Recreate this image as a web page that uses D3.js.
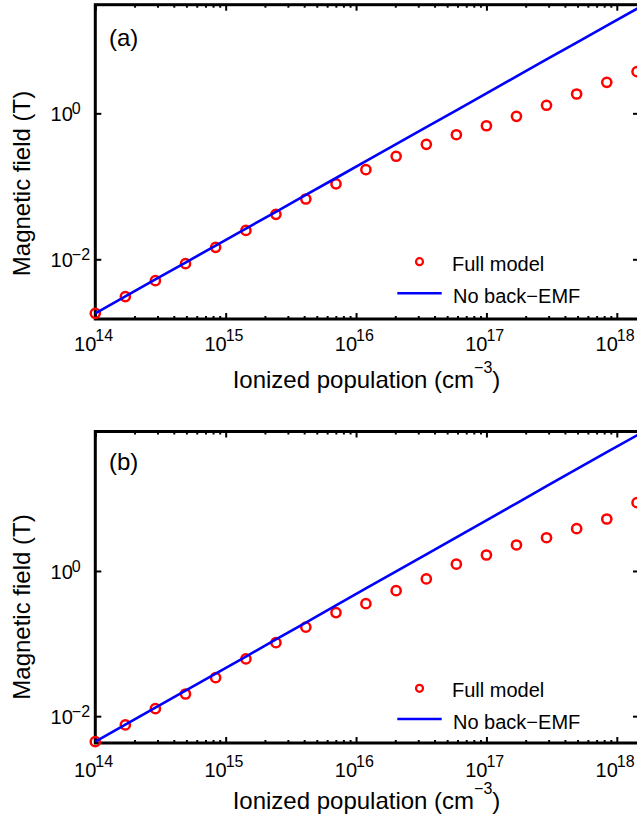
<!DOCTYPE html>
<html>
<head>
    <meta charset="utf-8">
    <title>Magnetic field vs ionized population</title>
    <script src="https://d3js.org/d3.v7.min.js"></script>
    <style>
        body { margin: 0; background: #fff; }
        text { font-family: "Liberation Sans", Arial, Helvetica, sans-serif; fill: #000; }
    </style>
</head>
<body>
    <svg id="chart" width="637" height="829"></svg>

    <script>
        // Ionized population (cm^-3) of the sampled points
        const densities = [1e14, 1.70e14, 2.89e14, 4.92e14, 8.38e14, 1.43e15, 2.43e15, 4.12e15, 7.02e15,
            1.19e16, 2.03e16, 3.46e16, 5.88e16, 1.0e17, 1.70e17, 2.89e17, 4.92e17, 8.38e17, 1.43e18];
        // the no back-EMF curve runs on to the right edge of the axes
        const lineDensities = [1e14, 1.70e14, 2.89e14, 4.92e14, 8.38e14, 1.43e15, 2.43e15, 4.12e15, 7.02e15,
            1.19e16, 2.03e16, 3.46e16, 5.88e16, 1.0e17, 1.70e17, 2.89e17, 4.92e17, 8.38e17, 1.43e18, 1.48e18];

        // panel (a), magnetic field in T
        const fullA = [1.82e-3, 3.08e-3, 5.09e-3, 8.71e-3, 1.46e-2, 2.49e-2, 4.13e-2, 6.70e-2, 0.108,
            0.169, 0.258, 0.376, 0.509, 0.676, 0.910, 1.29, 1.84, 2.66, 3.72];
        const noBackA = [1.82e-3, 3.10e-3, 5.30e-3, 9.03e-3, 1.54e-2, 2.63e-2, 4.48e-2, 7.64e-2, 0.130,
            0.222, 0.379, 0.647, 1.10, 1.88, 3.21, 5.47, 9.33, 15.9, 27.2, 28.2];

        // panel (b)
        const fullB = [4.46e-3, 7.57e-3, 1.27e-2, 2.02e-2, 3.39e-2, 6.14e-2, 0.103, 0.168, 0.267,
            0.355, 0.535, 0.776, 1.24, 1.66, 2.28, 2.87, 3.83, 5.20, 8.72];
        const noBackB = [4.46e-3, 7.64e-3, 1.31e-2, 2.25e-2, 3.86e-2, 6.62e-2, 0.114, 0.195, 0.335,
            0.574, 0.986, 1.69, 2.90, 4.98, 8.55, 14.7, 25.2, 43.2, 74.0, 77.1];

        // axes limits and ticks
        const xLim = [1e14, 1.48e18];
        const yLimA = [1.52e-3, 30.8];
        const yLimB = [4.27e-3, 83.4];
        const xMajor = [1e14, 1e15, 1e16, 1e17, 1e18];
        const xExponents = ['14', '15', '16', '17', '18'];
        const yMajor = [1e-2, 1];
        const yExponents = ['\u22122', '0'];
        const seriesNames = ['Full model', 'No back\u2212EMF'];

        const FONT_TICK = 20, FONT_SUP = 16, FONT_LABEL = 24, FONT_LEGEND = 20;
        const left = 95.3, right = 639;

        const svg = d3.select('#chart');

        // minor x ticks (2..9 per decade) inside the x limits
        const xMinor = [];
        for (let e = 14; e <= 18; e++) {
            for (let m = 2; m <= 9; m++) {
                const v = m * Math.pow(10, e);
                if (v <= xLim[1]) xMinor.push(v);
            }
        }

        function drawPanel(p) {
            const x = d3.scaleLog().domain(xLim).range([left, right]);
            const y = d3.scaleLog().domain(p.yLim).range([p.bottom, p.top]);
            const g = svg.append('g');

            // box
            g.append('rect')
                .attr('x', left).attr('y', p.top)
                .attr('width', right - left).attr('height', p.bottom - p.top)
                .attr('fill', 'none').attr('stroke', '#000').attr('stroke-width', 3);

            // ticks, all pointing inwards
            const tickGroups = [
                [d3.axisBottom(x).tickValues(xMinor).tickSize(-3), `translate(0,${p.bottom})`],
                [d3.axisBottom(x).tickValues(xMajor).tickSize(-6), `translate(0,${p.bottom})`],
                [d3.axisTop(x).tickValues(xMinor).tickSize(-3), `translate(0,${p.top})`],
                [d3.axisTop(x).tickValues(xMajor).tickSize(-6), `translate(0,${p.top})`],
                [d3.axisLeft(y).tickValues(yMajor).tickSize(-6), `translate(${left},0)`],
                [d3.axisRight(y).tickValues(yMajor).tickSize(-6), `translate(${right},0)`]
            ];
            tickGroups.forEach(([axis, tr]) => {
                const a = g.append('g').attr('transform', tr).call(axis.tickFormat(''));
                a.select('.domain').remove();
                a.selectAll('line').attr('stroke', '#000').attr('stroke-width', 2);
            });

            // x tick labels 10^n
            xMajor.forEach((v, i) => {
                g.append('text')
                    .attr('x', x(v) + 1).attr('y', p.xTickBase)
                    .attr('text-anchor', 'end').attr('font-size', FONT_TICK)
                    .text('10');
                g.append('text')
                    .attr('x', x(v)).attr('y', p.xTickBase - 10.5)
                    .attr('font-size', FONT_SUP)
                    .text(xExponents[i]);
            });

            // y tick labels
            yMajor.forEach((v, i) => {
                g.append('text')
                    .attr('x', left - 22.5).attr('y', y(v) + 8)
                    .attr('text-anchor', 'end').attr('font-size', FONT_TICK)
                    .text('10');
                g.append('text')
                    .attr('x', left - 23.5).attr('y', y(v) + 1)
                    .attr('font-size', FONT_SUP)
                    .text(yExponents[i]);
            });

            // axis labels
            const xl = g.append('text')
                .attr('x', 366.5).attr('y', p.xLabelBase)
                .attr('text-anchor', 'middle').attr('font-size', FONT_LABEL);
            xl.append('tspan').text('Ionized population (cm');
            xl.append('tspan').attr('font-size', FONT_SUP).attr('dy', -15).text('\u22123');
            xl.append('tspan').attr('dy', 15).text(')');

            g.append('text')
                .attr('transform', `translate(29.5,${p.yLabelCenter}) rotate(-90)`)
                .attr('text-anchor', 'middle').attr('font-size', FONT_LABEL)
                .text('Magnetic field (T)');

            // panel tag
            g.append('text')
                .attr('x', 109).attr('y', p.tagY)
                .attr('font-size', FONT_LABEL)
                .text(p.tag);

            // full model markers
            g.append('g').selectAll('circle')
                .data(densities.map((d, i) => [d, p.full[i]]))
                .join('circle')
                .attr('cx', d => x(d[0])).attr('cy', d => y(d[1]))
                .attr('r', 4.6)
                .attr('fill', 'none').attr('stroke', '#ff0000').attr('stroke-width', 2.5);

            // no back-EMF line
            const line = d3.line().x(d => x(d[0])).y(d => y(d[1]));
            g.append('path')
                .datum(lineDensities.map((d, i) => [d, p.noBack[i]]))
                .attr('d', line)
                .attr('fill', 'none').attr('stroke', '#0000ff').attr('stroke-width', 2.6);

            // legend (no box)
            g.append('circle')
                .attr('cx', 419.5).attr('cy', p.legendMarkerY).attr('r', 3.5)
                .attr('fill', 'none').attr('stroke', '#ff0000').attr('stroke-width', 2.2);
            g.append('line')
                .attr('x1', 397.3).attr('x2', 441.7)
                .attr('y1', p.legendLineY).attr('y2', p.legendLineY)
                .attr('stroke', '#0000ff').attr('stroke-width', 2.6);
            g.append('text')
                .attr('x', 452).attr('y', p.legendMarkerY + 9)
                .attr('font-size', FONT_LEGEND).text(seriesNames[0]);
            g.append('text')
                .attr('x', 453).attr('y', p.legendLineY + 10)
                .attr('font-size', FONT_LEGEND).text(seriesNames[1]);
        }

        drawPanel({
            tag: '(a)', full: fullA, noBack: noBackA, yLim: yLimA,
            top: 4.7, bottom: 319, xTickBase: 351, xLabelBase: 388.3,
            yLabelCenter: 183.5, tagY: 46, legendMarkerY: 261.7, legendLineY: 293.3
        });
        drawPanel({
            tag: '(b)', full: fullB, noBack: noBackB, yLim: yLimB,
            top: 431.5, bottom: 743, xTickBase: 777.3, xLabelBase: 809.3,
            yLabelCenter: 607, tagY: 469.5, legendMarkerY: 688.3, legendLineY: 719
        });
    </script>
</body>
</html>
